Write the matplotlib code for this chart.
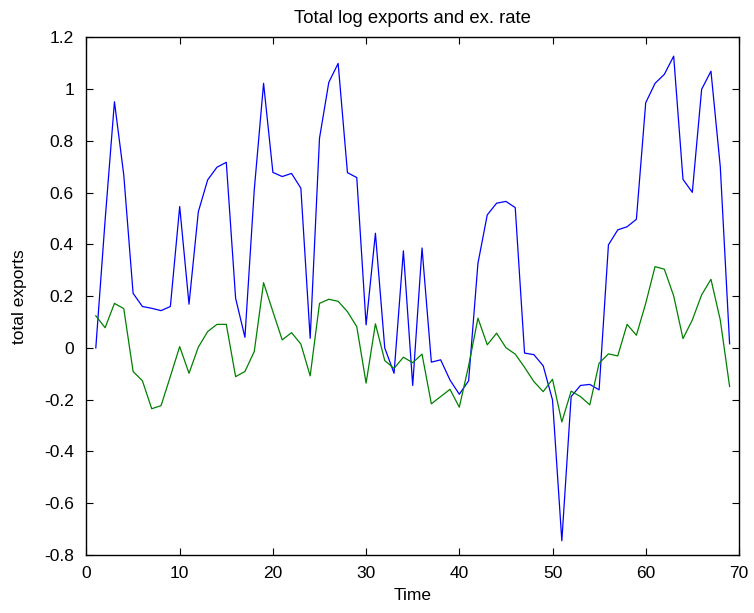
import matplotlib
matplotlib.use("Agg")
import matplotlib.pyplot as plt
import numpy as np

plt.rcParams['font.family'] = ['Liberation Sans', 'DejaVu Sans']

time = list(range(1, 70))
total_exports = [0.000, 0.494, 0.951, 0.668, 0.211, 0.160, 0.153, 0.144, 0.160, 0.546,
                 0.169, 0.526, 0.649, 0.698, 0.717, 0.192, 0.041, 0.610, 1.022, 0.678,
                 0.662, 0.674, 0.617, 0.037, 0.810, 1.026, 1.099, 0.677, 0.658, 0.089,
                 0.443, 0.000, -0.098, 0.375, -0.145, 0.386, -0.055, -0.046, -0.124, -0.179,
                 -0.127, 0.327, 0.514, 0.559, 0.566, 0.542, -0.020, -0.026, -0.069, -0.201,
                 -0.745, -0.188, -0.145, -0.141, -0.162, 0.398, 0.456, 0.468, 0.497, 0.947,
                 1.022, 1.057, 1.127, 0.651, 0.601, 0.999, 1.069, 0.700, 0.016]
ex_rate = [0.124, 0.078, 0.172, 0.152, -0.091, -0.127, -0.235, -0.223, -0.110, 0.005,
           -0.098, 0.003, 0.063, 0.091, 0.091, -0.111, -0.091, -0.014, 0.252, 0.140,
           0.031, 0.059, 0.015, -0.108, 0.172, 0.188, 0.180, 0.140, 0.082, -0.136,
           0.093, -0.049, -0.079, -0.036, -0.057, -0.024, -0.216, -0.188, -0.160, -0.229,
           -0.069, 0.115, 0.012, 0.057, 0.001, -0.024, -0.075, -0.130, -0.169, -0.121,
           -0.286, -0.167, -0.188, -0.220, -0.059, -0.023, -0.031, 0.091, 0.049, 0.172,
           0.314, 0.304, 0.201, 0.036, 0.108, 0.205, 0.265, 0.108, -0.149]

xticks = [0, 10, 20, 30, 40, 50, 60, 70]
yticks = [-0.8, -0.6, -0.4, -0.2, 0, 0.2, 0.4, 0.6, 0.8, 1, 1.2]
ytick_labels = ['-0.8', '-0.6', '-0.4', '-0.2', '0', '0.2', '0.4', '0.6', '0.8', '1', '1.2']

fig = plt.figure(figsize=(7.54, 6.13), dpi=100)
ax = fig.add_axes([0.1147, 0.0946, 0.8653, 0.8446])
ax.plot(time, total_exports, color='#0000ff', lw=0.9)
ax.plot(time, ex_rate, color='#008000', lw=0.9)
ax.set_xlim(0, 70)
ax.set_ylim(-0.8, 1.2)
ax.set_xticks(xticks)
ax.set_yticks(yticks)
ax.set_yticklabels(ytick_labels)
ax.tick_params(direction='in', top=True, right=True, labelsize=12.5, length=5, width=0.8)
ax.tick_params(axis='x', pad=8)
ax.tick_params(axis='y', pad=9)
for s in ax.spines.values():
    s.set_linewidth(1.0)
ax.set_title('Total log exports and ex. rate', fontsize=13.3, pad=10)
ax.set_xlabel('Time', fontsize=12.5, labelpad=5)
ax.set_ylabel('total exports', fontsize=12.5, labelpad=12)
fig.savefig('out.png', dpi=100)
